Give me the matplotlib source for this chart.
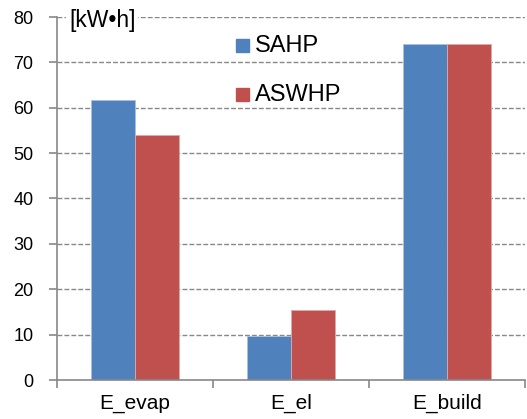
import numpy as np
import matplotlib.pyplot as plt
from matplotlib.patches import Rectangle

plt.rcParams['font.family'] = ['Liberation Sans', 'DejaVu Sans']

# data
categories = ['E_evap', 'E_el', 'E_build']
sahp = [61.7, 9.6, 74.1]
aswhp = [54.1, 15.5, 74.1]
series_names = ['SAHP', 'ASWHP']
colors = ['#4F81BD', '#C0504D']
yticks = [0, 10, 20, 30, 40, 50, 60, 70, 80]

W, H = 527, 419
fig = plt.figure(figsize=(W / 100, H / 100), dpi=100)
ax = fig.add_axes([57 / W, (H - 380) / H, (525 - 57) / W, (380 - 17) / H])

x = np.arange(len(categories)) + 0.5
bw = 0.285
ax.bar(x - bw / 2, sahp, bw, color=colors[0], edgecolor='#a9c0e0', linewidth=0.6, zorder=3)
ax.bar(x + bw / 2, aswhp, bw, color=colors[1], edgecolor='#e0a9a8', linewidth=0.6, zorder=3)

ax.set_xlim(0, 3)
ax.set_ylim(0, 80)
ax.set_yticks(yticks)
ax.set_yticklabels([str(v) for v in yticks], fontsize=13)
ax.set_xticks([0, 1, 2, 3])
ax.set_xticklabels([])
ax.set_xticks(x, minor=True)
ax.set_xticklabels(categories, minor=True, fontsize=15)
ax.tick_params(axis='x', which='minor', length=0, pad=10)
ax.tick_params(axis='x', which='major', length=6, color='#888888', width=1.2, direction='out')
ax.tick_params(axis='y', length=6, color='#888888', width=1.2, direction='out', pad=11)

for s in ['top', 'right']:
    ax.spines[s].set_visible(False)
for s in ['left', 'bottom']:
    ax.spines[s].set_color('#888888')
    ax.spines[s].set_linewidth(1.2)
ax.spines['bottom'].set_zorder(4)

for v in yticks[1:]:
    ax.axhline(v, color='#888888', linestyle=(0, (3.5, 1.5)), linewidth=1.0, zorder=1)

# unit label, white box hides the top grid line behind it
fig.text(69 / W, 1 - 21 / H, '[kW\u2022h]', fontsize=16.5, va='center', ha='left',
         bbox=dict(facecolor='white', edgecolor='none', pad=2), zorder=5)

# legend, placed by hand
for i, (name, c) in enumerate(zip(series_names, colors)):
    top = 39 + i * 49
    fig.patches.append(Rectangle((236 / W, 1 - (top + 13) / H), 13 / W, 13 / H,
                                 transform=fig.transFigure, color=c, zorder=5))
    fig.text(255 / W, 1 - (top + 7) / H, name, fontsize=17, va='center', ha='left', zorder=5)

fig.savefig('out.png', dpi=100)
